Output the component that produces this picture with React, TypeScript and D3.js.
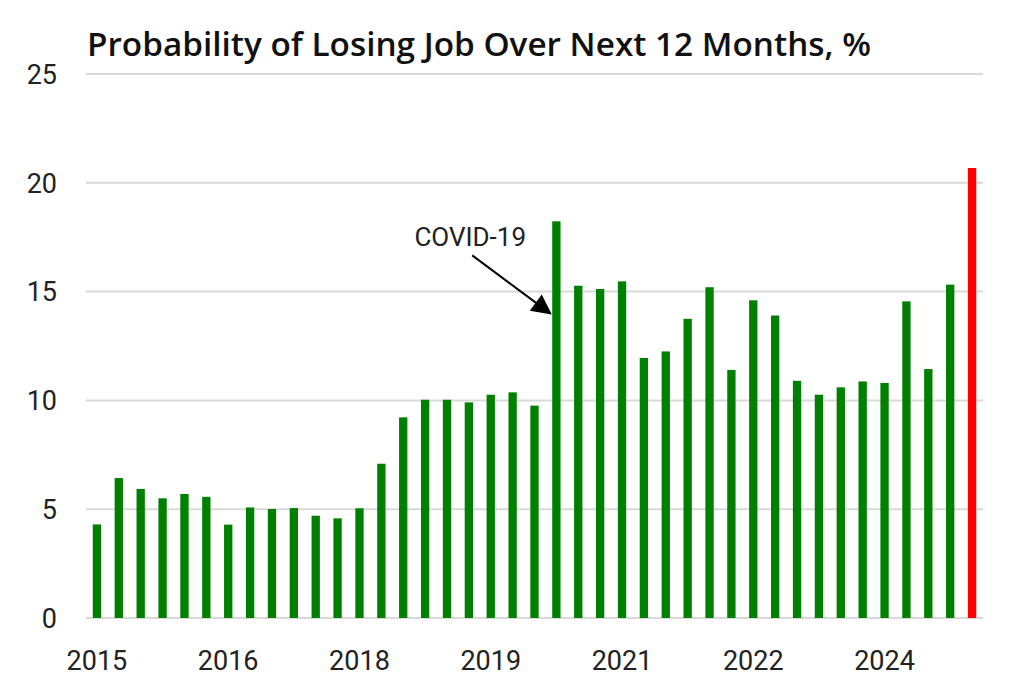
import React from "react";
import * as d3 from "d3";

// Survey: probability of losing job over next 12 months, %
const values: number[] = [
  4.3, 6.43, 5.93, 5.5, 5.7, 5.57, 4.29, 5.08, 5.01, 5.05, 4.7, 4.58, 5.04, 7.09,
  9.22, 10.03, 10.03, 9.91, 10.26, 10.37, 9.76, 18.23, 15.27, 15.12, 15.47, 11.95,
  12.25, 13.75, 15.2, 11.4, 14.6, 13.9, 10.9, 10.26, 10.6, 10.87, 10.8, 14.55,
  11.44, 15.32, 20.68,
];
// tick label shown every 6th bar
const yearLabels: string[] = ["2015", "2016", "2018", "2019", "2021", "2022", "2024"];
const yTicks: number[] = [0, 5, 10, 15, 20, 25];
const covidIndex = 21;

const W = 1024;
const H = 689;
const margin = { top: 74, right: 41, bottom: 71, left: 86 };

export default function App() {
  const x = d3
    .scaleBand<number>()
    .domain(d3.range(values.length))
    .range([margin.left, W - margin.right])
    .paddingInner(0.62)
    .paddingOuter(0.31);
  const y = d3
    .scaleLinear()
    .domain([0, 25])
    .range([H - margin.bottom, margin.top]);

  const bw = x.bandwidth();
  const cx = (i: number) => (x(i) as number) + bw / 2;

  // arrow to the COVID bar
  const tipX = (x(covidIndex) as number) - 2;
  const tipY = y(14.0);
  const startX = tipX - 78;
  const startY = tipY - 58;

  return (
    <svg
      width={W}
      height={H}
      style={{ position: "absolute", left: 0, top: 0, background: "#fff" }}
      fontFamily="Roboto, 'Open Sans', sans-serif"
    >
      <defs>
        <marker
          id="arrowHead"
          viewBox="0 0 10 10"
          refX="9"
          refY="5"
          markerWidth="22"
          markerHeight="20"
          orient="auto"
          markerUnits="userSpaceOnUse"
        >
          <path d="M0,0 L10,5 L0,10 z" fill="#000" />
        </marker>
      </defs>

      <text
        x={87}
        y={56}
        fontFamily="'Open Sans', sans-serif"
        fontWeight={600}
        fontSize={33}
        fill="#111"
        textLength={784}
        lengthAdjust="spacingAndGlyphs"
      >
        Probability of Losing Job Over Next 12 Months, %
      </text>

      {/* gridlines + y labels */}
      {yTicks.map((t) => (
        <g key={t}>
          <line
            x1={margin.left}
            x2={W - margin.right}
            y1={y(t)}
            y2={y(t)}
            stroke="#d9d9d9"
            strokeWidth={2}
          />
          <text
            x={57}
            y={y(t)}
            dy="0.36em"
            textAnchor="end"
            fontSize={27}
            fill="#222"
          >
            {t}
          </text>
        </g>
      ))}

      {/* bars */}
      {values.map((v, i) => (
        <rect
          key={i}
          x={x(i)}
          y={y(v)}
          width={bw}
          height={y(0) - y(v)}
          fill={i === values.length - 1 ? "#ff0000" : "#008000"}
        />
      ))}

      {/* x labels */}
      {yearLabels.map((lab, k) => (
        <text
          key={lab}
          x={cx(k * 6)}
          y={670}
          textAnchor="middle"
          fontSize={27}
          fill="#222"
        >
          {lab}
        </text>
      ))}

      {/* annotation */}
      <text x={startX - 2} y={startY - 9} textAnchor="middle" fontSize={26} fill="#222">
        COVID-19
      </text>
      <line
        x1={startX}
        y1={startY}
        x2={tipX}
        y2={tipY}
        stroke="#000"
        strokeWidth={2}
        markerEnd="url(#arrowHead)"
      />
    </svg>
  );
}
